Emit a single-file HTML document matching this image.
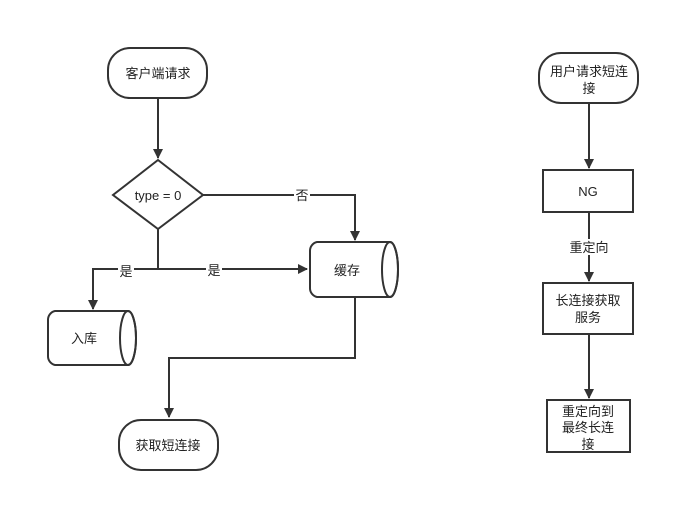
<!DOCTYPE html>
<html><head><meta charset="utf-8"><style>body{margin:0;background:#fff}svg{display:block}text{font-family:"Liberation Sans","Noto Sans CJK SC",sans-serif;font-size:13px;fill:#222}</style></head><body>
<svg width="700" height="532" viewBox="0 0 700 532" xmlns="http://www.w3.org/2000/svg">
<defs><marker id="a" markerWidth="10" markerHeight="10" refX="9" refY="5" orient="auto" markerUnits="userSpaceOnUse"><path d="M0,0 L10,5 L0,10 z" fill="#333"/></marker></defs>
<g fill="none" stroke="#333" stroke-width="2">
<rect x="108" y="48" width="99" height="50" rx="22" fill="#fff"/>
<path d="M158,98 V158" marker-end="url(#a)"/>
<path d="M158,160 L203,195 L158,229 L113,195 Z" fill="#fff"/>
<path d="M203,195 H355 V240" marker-end="url(#a)"/>
<path d="M158,229 V269 H307" marker-end="url(#a)"/>
<path d="M158,269 H93 V309" marker-end="url(#a)"/>
<path d="M317,242 H390 A8,27.5 0 0 1 390,297 H317 A9,9 0 0 1 310,288 V251 A9,9 0 0 1 317,242 Z" fill="#fff"/>
<ellipse cx="390" cy="269.5" rx="8" ry="27.5"/>
<path d="M55,311 H128 A8,27 0 0 1 128,365 H55 A9,9 0 0 1 48,356 V320 A9,9 0 0 1 55,311 Z" fill="#fff"/>
<ellipse cx="128" cy="338" rx="8" ry="27"/>
<path d="M355,297 V358 H169 V417" marker-end="url(#a)"/>
<rect x="119" y="420" width="99" height="50" rx="22" fill="#fff"/>
<rect x="539" y="53" width="99" height="50" rx="22" fill="#fff"/>
<path d="M589,103 V168" marker-end="url(#a)"/>
<rect x="543" y="170" width="90" height="42" fill="#fff"/>
<path d="M589,212 V281" marker-end="url(#a)"/>
<rect x="543" y="283" width="90" height="51" fill="#fff"/>
<path d="M589,334 V398" marker-end="url(#a)"/>
<rect x="547" y="400" width="83" height="52" fill="#fff"/>
</g>
<g text-anchor="middle">
<text x="158" y="78">客户端请求</text>
<text x="158" y="200">type = 0</text>
<rect x="294" y="187" width="16" height="16" fill="#fff"/><text x="302" y="200">否</text>
<rect x="206" y="262" width="16" height="15" fill="#fff"/><text x="214" y="275">是</text>
<rect x="118" y="262" width="16" height="15" fill="#fff"/><text x="126" y="276">是</text>
<text x="347" y="275">缓存</text>
<text x="84" y="343">入库</text>
<text x="168" y="450">获取短连接</text>
<text x="589" y="76">用户请求短连</text>
<text x="589" y="93">接</text>
<text x="588" y="196">NG</text>
<rect x="567" y="239" width="44" height="16" fill="#fff"/><text x="589" y="252">重定向</text>
<text x="588" y="305">长连接获取</text>
<text x="588" y="322">服务</text>
<text x="588" y="416">重定向到</text>
<text x="588" y="432">最终长连</text>
<text x="588" y="449">接</text>
</g>
</svg>
</body></html>
